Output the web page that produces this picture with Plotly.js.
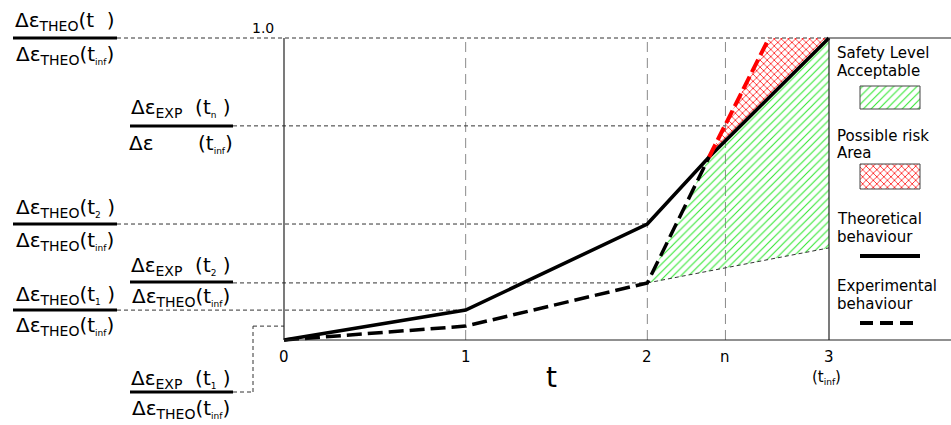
<!DOCTYPE html>
<html><head><meta charset="utf-8">
<script src="https://cdn.plot.ly/plotly-3.0.1.min.js"></script>
<style>html,body{margin:0;padding:0;background:#fff}#chart{width:951px;height:425px}</style>
</head><body><div id="chart"></div>
<script>
// ---- data ----
const tickVals = [0, 1, 2, 2.43, 3];
const tickText = ['0', '1', '2', 'n', '3'];
const theoT = [0, 1, 2, 2.34, 3];
const theoV = [0, 0.099, 0.384, 0.606, 1.0];
const expT = [0, 1, 2, 2.34];
const expV = [0, 0.046, 0.189, 0.606];
const riskT = [2.34, 2.67];
const riskV = [0.606, 1.0];
const safeLowT = [2, 3];
const safeLowV = [0.189, 0.305];
const levelV = [1.0, 0.709, 0.384, 0.189, 0.099, 0.046];
const levelEndT = [3, 2.43, 2, 2, 1, 0];

// ---- pixel helpers (layout only) ----
const PX = 545 / 3;
const X = px => (px - 284) / PX;
const Y = py => (340 - py) / 302;
const FONT = 'DejaVu Sans';

const sm = s => `<sub><span style="font-size:9px">${s}</span></sub>`;
const D = 'Δε';
const theoDen = `${D}<sub>THEO</sub>(t${sm('inf')})`;

const greenPat = {shape: '/', fgcolor: '#33e633', bgcolor: 'rgba(0,0,0,0)', size: 5.5, solidity: 0.2};
const redPat = {shape: 'x', fgcolor: '#ff1a1a', bgcolor: 'rgba(0,0,0,0)', size: 5, solidity: 0.3};

const traces = [];
// safety area
traces.push({
  x: [safeLowT[0], expT[3], theoT[4], safeLowT[1], safeLowT[0]],
  y: [safeLowV[0], expV[3], theoV[4], safeLowV[1], safeLowV[0]],
  mode: 'lines', fill: 'toself', line: {width: 0, color: 'rgba(0,0,0,0)'},
  fillcolor: 'rgba(0,0,0,0)', fillpattern: greenPat, hoverinfo: 'skip'
});
// risk area
traces.push({
  x: [riskT[0], riskT[1], theoT[4], riskT[0]],
  y: [riskV[0], riskV[1], theoV[4], riskV[0]],
  mode: 'lines', fill: 'toself', line: {width: 0, color: 'rgba(0,0,0,0)'},
  fillcolor: 'rgba(0,0,0,0)', fillpattern: redPat, hoverinfo: 'skip'
});
// safety lower bound
traces.push({x: safeLowT, y: safeLowV, mode: 'lines', line: {color: '#333', width: 1, dash: '4px,3px'}, hoverinfo: 'skip'});
// theoretical
traces.push({x: theoT, y: theoV, mode: 'lines', line: {color: '#000', width: 3.5}, hoverinfo: 'skip'});
// experimental
traces.push({x: expT, y: expV, mode: 'lines', line: {color: '#000', width: 3.5, dash: '15px,6px'}, hoverinfo: 'skip'});
// risk line
traces.push({x: riskT, y: riskV, mode: 'lines', line: {color: '#ff0000', width: 4, dash: '14px,5px'}, hoverinfo: 'skip'});

// legend swatches
const box = (x0, x1, y0, y1) => ({x: [X(x0), X(x1), X(x1), X(x0), X(x0)], y: [Y(y0), Y(y0), Y(y1), Y(y1), Y(y0)]});
const gb = box(860, 920, 86, 109);
traces.push(Object.assign(gb, {mode: 'lines', fill: 'toself', line: {color: '#444', width: 1}, fillcolor: 'rgba(0,0,0,0)',
  fillpattern: greenPat, hoverinfo: 'skip'}));
const rb = box(860, 920, 164, 189);
traces.push(Object.assign(rb, {mode: 'lines', fill: 'toself', line: {color: '#444', width: 1}, fillcolor: 'rgba(0,0,0,0)',
  fillpattern: redPat, hoverinfo: 'skip'}));
traces.push({x: [X(860), X(920)], y: [Y(256), Y(256)], mode: 'lines', line: {color: '#000', width: 4}, hoverinfo: 'skip'});
traces.push({x: [X(860), X(920)], y: [Y(323), Y(323)], mode: 'lines', line: {color: '#000', width: 4, dash: '13px,7px'}, hoverinfo: 'skip'});

// ---- shapes ----
const shapes = [];
const ln = (x0, y0, x1, y1, line, layer) => shapes.push({type: 'line', xref: 'x', yref: 'y', x0, y0, x1, y1, line, layer: layer || 'above'});
const grid = {color: '#8a8a8a', width: 1, dash: '10px,6px'};
[1, 2, tickVals[3]].forEach(v => ln(v, 0, v, 1, grid, 'below'));
const helper = {color: '#333', width: 1, dash: '4px,3px'};
const levelStartPx = [117, 233, 117, 233, 117, 253];
levelV.forEach((v, i) => ln(X(levelStartPx[i]), v, levelEndT[i], v, helper, 'below'));
// connector for EXP(t1)
ln(X(233), Y(392), X(253), Y(392), helper, 'below');
ln(X(253), Y(392), X(253), levelV[5], helper, 'below');
// axes and frame
const solid = {color: '#222', width: 1.2};
ln(0, 0, 0, 1, solid);
ln(0, 0, X(951), 0, solid);
ln(3, 0, 3, 1, solid);
ln(3, 1, X(951), 1, solid);
// fraction bars
const bar = {color: '#000', width: 3};
[[13, 117, 38], [130, 233, 126], [13, 117, 224], [130, 233, 282], [13, 117, 310], [130, 233, 392]]
  .forEach(b => ln(X(b[0]), Y(b[2]), X(b[1]), Y(b[2]), bar));

// ---- annotations ----
const ann = [];
const txt = (px, py, text, size, xanchor) => ann.push({x: X(px), y: Y(py), xref: 'x', yref: 'y', text, showarrow: false,
  xanchor: xanchor || 'center', yanchor: 'middle', font: {family: FONT, size: size, color: '#000'}});
const fr = [
  [65, 21, 55, `${D}<sub>THEO</sub>(t\u00a0\u00a0)`, theoDen],
  [181, 108, 143, `${D}<sub>EXP</sub>\u00a0\u00a0(t${sm('n')}\u00a0)`, `${D}\u00a0\u00a0\u00a0\u00a0\u00a0\u00a0\u00a0(t${sm('inf')})`],
  [65, 208, 241, `${D}<sub>THEO</sub>(t${sm('2')}\u00a0)`, theoDen],
  [181, 266, 297, `${D}<sub>EXP</sub>\u00a0\u00a0(t${sm('2')}\u00a0)`, theoDen],
  [65, 295, 326, `${D}<sub>THEO</sub>(t${sm('1')}\u00a0)`, theoDen],
  [181, 379, 409, `${D}<sub>EXP</sub>\u00a0\u00a0(t${sm('1')}\u00a0)`, theoDen]
];
fr.forEach(f => { txt(f[0], f[1], f[3], 20); txt(f[0], f[2], f[4], 20); });
txt(263, 28, '1.0', 14);
tickVals.forEach((v, i) => ann.push({x: v, y: Y(357), xref: 'x', yref: 'y', text: tickText[i], showarrow: false,
  xanchor: 'center', yanchor: 'middle', font: {family: FONT, size: 15, color: '#000'}}));
txt(826, 377, `(t${sm('inf')})`, 15);
txt(551, 377, 't', 28);
[['Safety Level', 53], ['Acceptable', 71], ['Possible risk', 136], ['Area', 153], ['Theoretical', 219], ['behaviour', 237],
 ['Experimental', 286], ['behaviour', 304]].forEach(l => txt(835, l[1], l[0], 15, 'left'));

const layout = {
  width: 951, height: 425, margin: {l: 0, r: 0, t: 0, b: 0},
  paper_bgcolor: '#fff', plot_bgcolor: '#fff', showlegend: false,
  xaxis: {range: [X(0), X(951)], visible: false, fixedrange: true},
  yaxis: {range: [Y(425), Y(0)], visible: false, fixedrange: true},
  shapes, annotations: ann
};
Plotly.newPlot('chart', traces, layout, {staticPlot: true});
</script></body></html>
